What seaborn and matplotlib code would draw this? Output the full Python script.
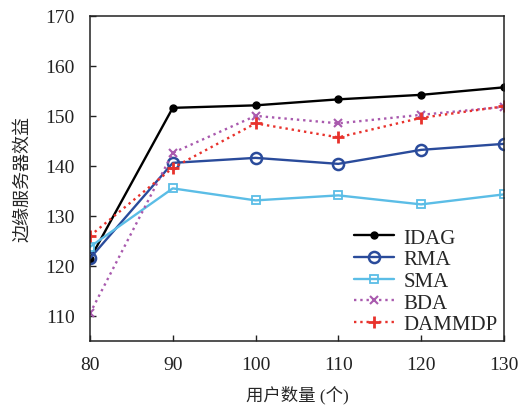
import numpy as np
import pandas as pd
import matplotlib
matplotlib.use('Agg')
import matplotlib.pyplot as plt
import seaborn as sns

# data
users = [80, 90, 100, 110, 120, 130]
idag = [121.4, 151.6, 152.1, 153.3, 154.2, 155.7]
rma = [121.5, 140.6, 141.6, 140.4, 143.2, 144.4]
sma = [123.8, 135.5, 133.1, 134.1, 132.3, 134.3]
bda = [110.5, 142.6, 150.0, 148.5, 150.2, 151.8]
dammdp = [126.0, 139.6, 148.5, 145.7, 149.6, 151.9]

series = ['IDAG', 'RMA', 'SMA', 'BDA', 'DAMMDP']
colors = {'IDAG': '#000000', 'RMA': '#2a4b9b', 'SMA': '#5bbde6',
          'BDA': '#a95aae', 'DAMMDP': '#e8322c'}

sns.set_theme(style='ticks')
plt.rcParams['font.family'] = ['Liberation Serif', 'Noto Sans CJK SC', 'DejaVu Sans']

df = pd.DataFrame({'users': users, 'IDAG': idag, 'RMA': rma, 'SMA': sma,
                   'BDA': bda, 'DAMMDP': dammdp})

fig = plt.figure(figsize=(5.2, 4.1), dpi=100)
ax = fig.add_axes([0.173, 0.166, 0.796, 0.793])

# per-series styles
styles = {
    'IDAG': dict(marker='o', markersize=5, linestyle='-', mfc=colors['IDAG']),
    'RMA': dict(marker='o', markersize=8, linestyle='-', mfc='none', mew=1.8),
    'SMA': dict(marker='s', markersize=6, linestyle='-', mfc='none', mew=1.3),
    'BDA': dict(marker='x', markersize=6, linestyle=':', mew=1.5),
    'DAMMDP': dict(marker='+', markersize=9, linestyle=':', mew=2),
}

for s in series:
    st = styles[s]
    sns.lineplot(data=df, x='users', y=s, ax=ax, color=colors[s], label=s,
                 linewidth=1.7, marker=st['marker'], markersize=st['markersize'],
                 linestyle=st['linestyle'], markerfacecolor=st.get('mfc', colors[s]),
                 markeredgecolor=colors[s], markeredgewidth=st.get('mew', 1))

ax.set_xlim(80, 130)
ax.set_ylim(105, 170)
ax.set_xticks(users)
ax.set_yticks(np.arange(110, 171, 10))
ax.tick_params(direction='in', length=4, width=1, pad=11, labelsize=14, colors='#222222')
for sp in ax.spines.values():
    sp.set_linewidth(1.1)
    sp.set_color('#222222')

ax.set_xlabel('用户数量 (个)', fontsize=12.5, labelpad=8)
ax.set_ylabel('边缘服务器效益', fontsize=13, labelpad=10)

leg = ax.legend(loc='lower right', frameon=False, fontsize=15, labelspacing=0.1,
                handlelength=1.9, handletextpad=0.45, borderaxespad=0.0,
                bbox_to_anchor=(1.005, -0.005))

fig.savefig('out.png', dpi=100)
